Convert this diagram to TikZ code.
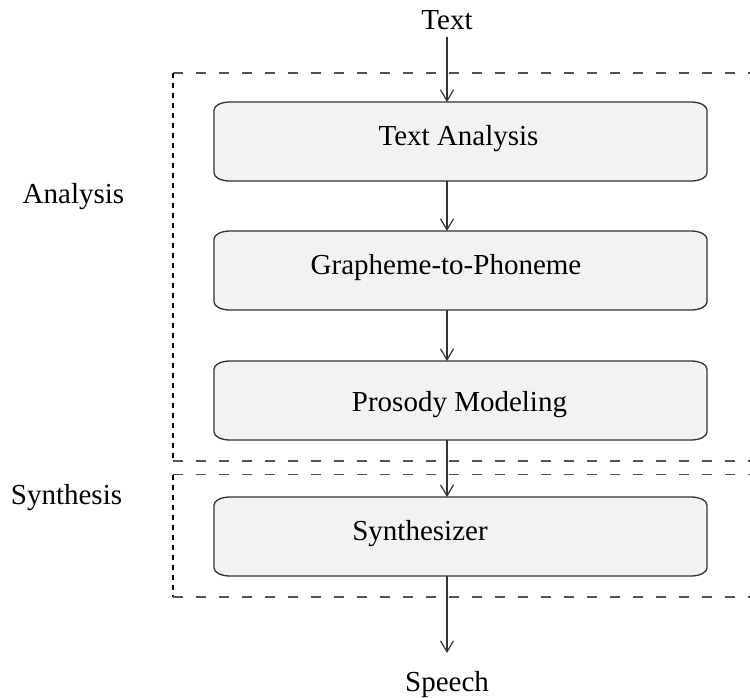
\documentclass[tikz,border=0pt]{standalone}
\usepackage{fontspec}
\setmainfont{Liberation Serif}
\usetikzlibrary{arrows.meta}
\definecolor{boxfill}{RGB}{242,242,242}
\definecolor{linecol}{RGB}{51,51,51}
\begin{document}
\begin{tikzpicture}[x=1pt,y=-1pt,
  font=\fontsize{29}{34}\selectfont,
  stage/.style={minimum width=493pt, minimum height=79pt, inner sep=0pt, outer sep=0pt},
  lbl/.style={anchor=base, inner sep=0pt},
  flow/.style={draw=linecol, line width=1.2pt,
    -{Straight Barb[length=11pt,width=13pt,line width=1.2pt]}},
  hdash/.style={draw=linecol!85, line width=1.2pt, dash pattern=on 10pt off 13pt},
  vdash/.style={draw=black, line width=1.2pt, dash pattern=on 5pt off 5pt},
  boxline/.style={fill=boxfill, draw=linecol, line width=1.3pt}]
\clip (0,0) rectangle (750,697);
\fill[white] (0,0) rectangle (750,697);

% stage frames: analysis and synthesis
\draw[hdash] (173,73) -- (760,73);
\draw[vdash] (173,73) -- (173,461);
\draw[hdash] (173,461) -- (760,461);
\draw[hdash] (173,474.5) -- (760,474.5);
\draw[vdash] (173,474.5) -- (173,597);
\draw[hdash] (173,597) -- (760,597);

% processing blocks
\node[stage] (ta) at (460.5,141.5) {};
\node[stage] (gp) at (460.5,270.5) {};
\node[stage] (pm) at (460.5,400.5) {};
\node[stage] (sy) at (460.5,536.5) {};
\foreach \n in {ta,gp,pm,sy}{
  \path[boxline] ([yshift=-8pt]\n.north west)
    arc[start angle=180,end angle=90,x radius=16pt,y radius=8pt]
    -- ([xshift=-16pt]\n.north east)
    arc[start angle=90,end angle=0,x radius=16pt,y radius=8pt]
    -- ([yshift=8pt]\n.south east)
    arc[start angle=0,end angle=-90,x radius=16pt,y radius=8pt]
    -- ([xshift=16pt]\n.south west)
    arc[start angle=270,end angle=180,x radius=16pt,y radius=8pt]
    -- cycle;
}

% texts
\node[lbl] (tin) at (447,29) {Text};
\node[lbl] (tat) at (458.5,145) {Text Analysis};
\node[lbl] (gpt) at (446,274) {Grapheme-to-Phoneme};
\node[lbl] (pmt) at (459.5,411) {Prosody Modeling};
\node[lbl] (syt) at (420,540) {Synthesizer};
\node[lbl] (sp) at (447,691) {Speech};
\node[lbl] (an) at (73.5,203) {Analysis};
\node[lbl] (sn) at (66.5,504) {Synthesis};

% flow arrows
\draw[flow] ([yshift=-8pt]tin.base) -- (ta.north -| tin.base);
\draw[flow] (ta.south -| tin.base) -- (gp.north -| tin.base);
\draw[flow] (gp.south -| tin.base) -- (pm.north -| tin.base);
\draw[flow] (pm.south -| tin.base) -- (sy.north -| tin.base);
\draw[flow] (sy.south -| tin.base) -- ([yshift=38pt]sp.base);
\end{tikzpicture}
\end{document}
